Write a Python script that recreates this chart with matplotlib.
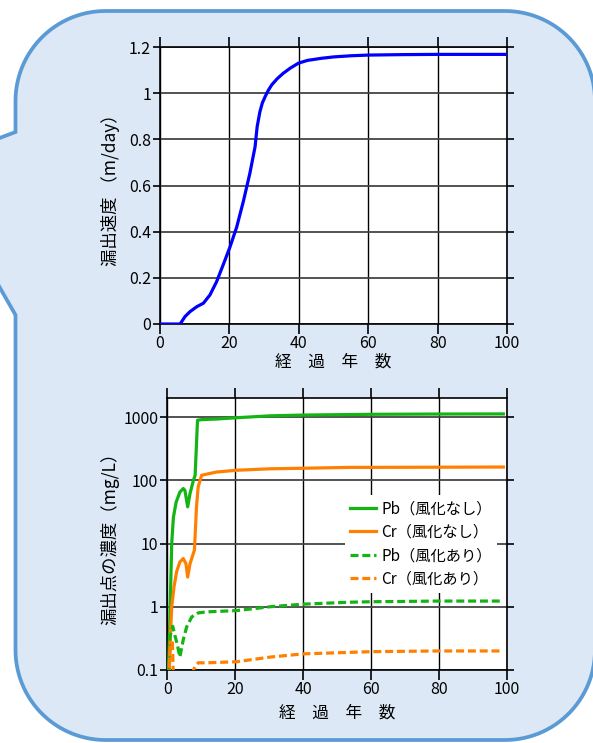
import numpy as np
import matplotlib
matplotlib.use("Agg")
import matplotlib.pyplot as plt
from matplotlib.path import Path
from matplotlib.patches import PathPatch
from matplotlib.transforms import Affine2D
from matplotlib.ticker import FixedLocator, FixedFormatter, NullLocator

plt.rcParams['font.family'] = ['Noto Sans CJK JP', 'DejaVu Sans']

# ---- leakage velocity over time ----
years_v = [0, 5.8, 7.2, 8.6, 10.6, 12.5, 14.4, 16.3, 18.2, 20.2, 22.1, 24.0,
           25.9, 27.4, 28.0, 28.8, 29.5, 30.3, 31.2, 32.2, 33.8, 35.5, 37.5, 39.9,
           42.5, 46.5, 50, 55, 60, 70, 80, 100]
velocity = [0, 0, 0.032, 0.053, 0.075, 0.09, 0.126, 0.183, 0.256, 0.335, 0.42, 0.53,
            0.653, 0.768, 0.855, 0.92, 0.958, 0.985, 1.012, 1.036, 1.063, 1.086,
            1.108, 1.13, 1.142, 1.151, 1.157, 1.162, 1.165, 1.167, 1.168, 1.168]

# ---- concentration at the leak point ----
years_pb = [0.3, 0.8, 1.3, 1.8, 2.6, 3.7, 4.7, 5.2, 6.0, 6.7, 7.7, 8.2, 8.9, 10,
            14.5, 20.4, 30.3, 40.1, 53.8, 60.7, 80, 99]
pb_plain = [0.08, 0.8, 10, 26, 45, 65, 74, 69, 38, 62, 100, 120, 890, 910,
            930, 975, 1045, 1075, 1095, 1105, 1115, 1120]

years_cr = [0.5, 0.8, 1.3, 2.0, 2.75, 3.7, 4.7, 5.5, 6.0, 6.7, 8.0, 8.6, 9.1, 10.1,
            14.5, 20.4, 30.3, 40.1, 53.8, 60, 80, 99]
cr_plain = [0.08, 0.26, 1.0, 2.1, 3.6, 5.1, 5.8, 4.8, 2.95, 4.8, 7.9, 38, 79, 120,
            135, 144, 152, 155, 160, 160, 161, 162]

years_pb_w = [0.6, 0.8, 1.6, 2.3, 2.9, 3.7, 4.7, 5.7, 7.2, 9.1, 11.6, 20.4, 30.3,
              40.1, 53.8, 60, 80, 99]
pb_weathered = [0.08, 0.34, 0.49, 0.34, 0.26, 0.16, 0.30, 0.48, 0.69, 0.80, 0.83,
                0.87, 1.0, 1.1, 1.18, 1.2, 1.23, 1.23]

years_cr_w = [0.4, 0.8, 1.5, 2.0, 7.0, 7.7, 8.5, 9.1, 11.6, 20.4, 30.3, 40.1, 53.8,
              60, 80, 99]
cr_weathered = [0.05, 0.26, 0.27, 0.03, 0.03, 0.1, 0.12, 0.13, 0.13, 0.135, 0.16,
                0.18, 0.19, 0.195, 0.2, 0.2]

labels = ['Pb（風化なし）', 'Cr（風化なし）', 'Pb（風化あり）', 'Cr（風化あり）']
x_ticks = [0, 20, 40, 60, 80, 100]
v_ticks = [0, 0.2, 0.4, 0.6, 0.8, 1.0, 1.2]
v_tick_labels = ['0', '0.2', '0.4', '0.6', '0.8', '1', '1.2']
c_ticks = [0.1, 1, 10, 100, 1000]
c_tick_labels = ['0.1', '1', '10', '100', '1000']

W, H = 593, 743
fig = plt.figure(figsize=(W / 100, H / 100), dpi=100)
fig.patch.set_facecolor('white')

# ---- callout bubble behind the charts (pixel coordinates, y downward) ----
def arc(cx, cy, r, a0, a1, n=30):
    t = np.radians(np.linspace(a0, a1, n))
    return list(zip(cx + r * np.cos(t), cy + r * np.sin(t)))

L, R, T, B, rad = 15.5, 595, 11, 740, 90
pts = []
pts += arc(R - rad, T + rad, rad, -90, 0)
pts += arc(R - rad, B - rad, rad, 0, 90)
pts += arc(L + rad, B - rad, rad, 90, 180)
pts += [(L, 315), (-40, 218), (-40, 153), (L, 132)]
pts += arc(L + rad, T + rad, rad, 180, 270)
pts.append(pts[0])
verts = [(x, H - y) for x, y in pts]
codes = [Path.MOVETO] + [Path.LINETO] * (len(verts) - 2) + [Path.CLOSEPOLY]
to_fig = Affine2D().scale(1 / W, 1 / H) + fig.transFigure
bubble = PathPatch(Path(verts, codes), facecolor='#dce8f5', edgecolor='#5b9bd5',
                   lw=2.7, transform=to_fig, zorder=0)
fig.add_artist(bubble)

TICK_FS = 11.5
LABEL_FS = 12.5
XLABEL_FS = 12


def style_axes(ax):
    ax.set_facecolor('white')
    for s in ax.spines.values():
        s.set_linewidth(1.2)
        s.set_color('black')
    ax.tick_params(which='major', direction='out', length=5, width=1.2,
                   top=True, right=True, labelsize=TICK_FS, pad=1.5, color='black')
    ax.tick_params(axis='x', which='major', pad=1.0)
    ax.tick_params(axis='x', which='major', bottom=True, length=7)
    ax.xaxis.grid(True, color='black', lw=1.0)
    ax.yaxis.grid(True, color='#444444', lw=1.3)
    ax.set_axisbelow(True)
    ax.set_xlim(0, 100)
    ax.xaxis.set_major_locator(FixedLocator(x_ticks))


# ---- top: leakage velocity ----
ax1 = fig.add_axes([160 / W, (H - 324) / H, 347 / W, 277 / H])
style_axes(ax1)
ax1.plot(years_v, velocity, color='#0000ff', lw=2.3, solid_capstyle='butt',
         solid_joinstyle='round', zorder=3)
ax1.set_ylim(0, 1.2)
ax1.yaxis.set_major_locator(FixedLocator(v_ticks))
ax1.yaxis.set_major_formatter(FixedFormatter(v_tick_labels))
ax1.set_xlabel('経　過　年　数', fontsize=XLABEL_FS)
ax1.set_ylabel('漏出速度 （m/day）', fontsize=LABEL_FS)
ax1.xaxis.set_label_coords(0.5, (324 - 362) / 277)
ax1.xaxis.label.set_va('center')
ax1.yaxis.set_label_coords((110 - 160) / 347, 0.5)
ax1.yaxis.label.set_va('center')

# ---- bottom: concentration at the leak point ----
bw, bh = 339.4, 272
ax2 = fig.add_axes([167.3 / W, (H - 670) / H, bw / W, bh / H])
style_axes(ax2)
ax2.set_yscale('log')
ax2.set_ylim(0.1, 2000)
ax2.yaxis.set_major_locator(FixedLocator(c_ticks))
ax2.yaxis.set_major_formatter(FixedFormatter(c_tick_labels))
ax2.yaxis.set_minor_locator(NullLocator())

green, orange = '#14b414', '#ff8000'
dash = (2.5, 1.2)
ax2.plot(years_pb, pb_plain, color=green, lw=2.3, label=labels[0], zorder=3)
ax2.plot(years_cr, cr_plain, color=orange, lw=2.3, label=labels[1], zorder=3)
ax2.plot(years_pb_w, pb_weathered, color=green, lw=2.3, dashes=dash,
         label=labels[2], zorder=3)
ax2.plot(years_cr_w, cr_weathered, color=orange, lw=2.3, dashes=dash,
         label=labels[3], zorder=3)
ax2.set_xlabel('経　過　年　数', fontsize=XLABEL_FS)
ax2.set_ylabel('漏出点の濃度（mg/L）', fontsize=LABEL_FS)
ax2.xaxis.set_label_coords(0.5, (670 - 713) / bh)
ax2.xaxis.label.set_va('center')
ax2.yaxis.set_label_coords((110 - 167.3) / bw, 0.5)
ax2.yaxis.label.set_va('center')

leg = ax2.legend(loc='upper left',
                 bbox_to_anchor=((345 - 167.3) / bw, (670 - 495) / bh),
                 borderaxespad=0, frameon=True, fancybox=False, framealpha=1,
                 facecolor='white', edgecolor='none', fontsize=11,
                 handlelength=1.7, handletextpad=0.33, borderpad=0.35,
                 labelspacing=0.42)
leg.set_zorder(5)

fig.savefig('out.png', dpi=100, facecolor='white')
